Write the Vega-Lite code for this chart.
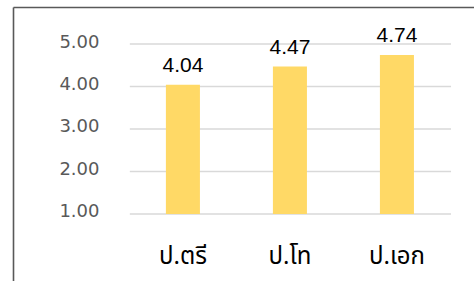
{
  "$schema": "https://vega.github.io/schema/vega-lite/v6.json",
  "width": 461,
  "height": 274,
  "autosize": {"type": "none"},
  "padding": {"left": 13, "top": 7, "right": 0, "bottom": 0},
  "background": "white",
  "config": {"view": {"stroke": null}},
  "data": {
    "values": [
      {"level": "ป.ตรี", "score": 4.04},
      {"level": "ป.โท", "score": 4.47},
      {"level": "ป.เอก", "score": 4.74}
    ]
  },
  "layer": [
    {
      "data": {"values": [{"g": 1}, {"g": 2}, {"g": 3}, {"g": 4}, {"g": 5}]},
      "mark": {"type": "rule", "color": "#d9d9d9", "strokeWidth": 1.3},
      "encoding": {
        "x": {"datum": "ป.ตรี", "type": "nominal", "bandPosition": -1.06},
        "x2": {"datum": "ป.เอก", "bandPosition": 2.09},
        "y": {"field": "g", "type": "quantitative"}
      }
    },
    {
      "mark": {"type": "bar", "color": "#FFD966"},
      "encoding": {
        "x": {
          "field": "level",
          "type": "nominal",
          "sort": null,
          "scale": {
            "type": "band",
            "domain": ["ป.ตรี", "ป.โท", "ป.เอก"],
            "paddingInner": 0.682,
            "paddingOuter": 0.995,
            "align": 0.718
          },
          "axis": {
            "orient": "top",
            "title": null,
            "domain": true,
            "domainColor": "#595959",
            "domainWidth": 1.6,
            "ticks": false,
            "tickSize": 0,
            "labelPadding": -256,
            "labelBaseline": "alphabetic",
            "labelAlign": "center",
            "labelAngle": 0,
            "labelFont": "Noto Sans Thai, Tahoma, Leelawadee UI, sans-serif",
            "labelFontSize": 24,
            "labelColor": "#000000",
            "grid": false
          }
        },
        "y": {
          "field": "score",
          "type": "quantitative",
          "scale": {"domain": [-0.5765, 5.8706], "nice": false, "zero": false},
          "axis": {
            "orient": "left",
            "title": null,
            "values": [1, 2, 3, 4, 5],
            "format": ".2f",
            "grid": false,
            "ticks": false,
            "tickSize": 0,
            "domain": true,
            "domainColor": "#595959",
            "domainWidth": 1.6,
            "labelPadding": -86,
            "labelOffset": -2,
            "labelFont": "DejaVu Sans",
            "labelFontSize": 18,
            "labelColor": "#595959"
          }
        },
        "y2": {"datum": 1}
      }
    },
    {
      "mark": {
        "type": "text",
        "dy": -13,
        "baseline": "alphabetic",
        "font": "Liberation Sans",
        "fontSize": 21,
        "color": "#000000"
      },
      "encoding": {
        "x": {"field": "level", "type": "nominal", "sort": null},
        "y": {"field": "score", "type": "quantitative"},
        "text": {"field": "score", "type": "quantitative", "format": ".2f"}
      }
    }
  ]
}
